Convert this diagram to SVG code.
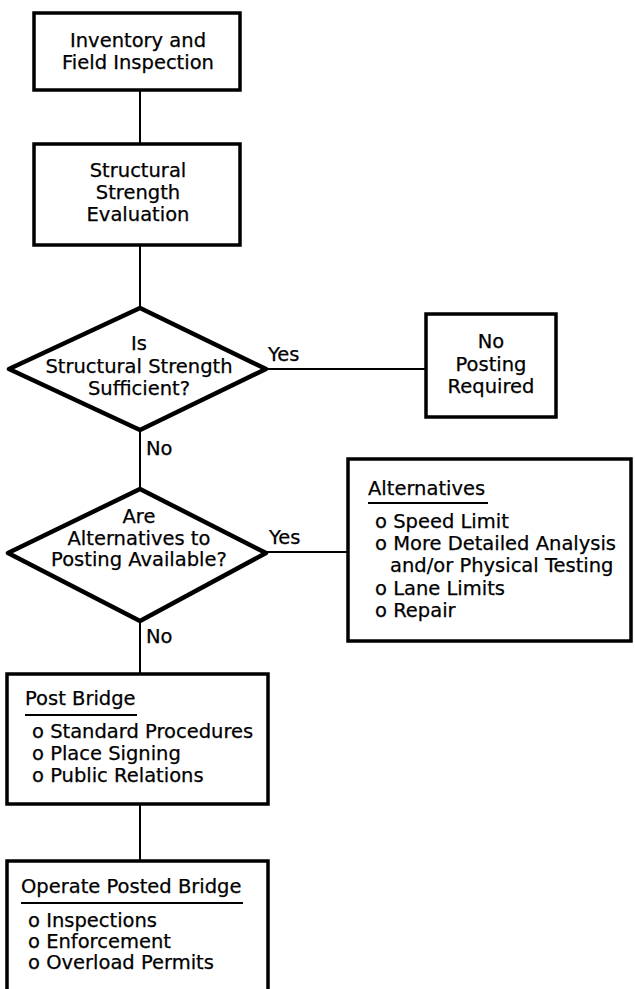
<svg xmlns="http://www.w3.org/2000/svg" width="635" height="989" viewBox="0 0 635 989">
<style>
.box{fill:#fff;stroke:#000;stroke-width:3.5}
.dia{fill:#fff;stroke:#000;stroke-width:4.5;stroke-linejoin:round}
.ln{stroke:#000;stroke-width:2;fill:none}
.ul{stroke:#000;stroke-width:1.8}
text{font-family:"DejaVu Sans","Liberation Sans",sans-serif;font-size:19.5px;fill:#000;stroke:#000;stroke-width:0.25}
.c{text-anchor:middle}
</style>
<rect width="635" height="989" fill="#fff"/>
<g id="connectors">
<line class="ln" x1="140" y1="91" x2="140" y2="144"/>
<line class="ln" x1="140" y1="246" x2="140" y2="308"/>
<line class="ln" x1="140" y1="430" x2="140" y2="489"/>
<line class="ln" x1="140" y1="621" x2="140" y2="674"/>
<line class="ln" x1="140" y1="805" x2="140" y2="861"/>
<line class="ln" x1="266" y1="369" x2="426" y2="369"/>
<line class="ln" x1="266" y1="552" x2="348" y2="552"/>
<text x="268" y="361">Yes</text>
<text x="146" y="455">No</text>
<text x="269" y="544">Yes</text>
<text x="146" y="643">No</text>
</g>
<g id="inventory">
<rect class="box" x="34" y="13" width="206" height="77"/>
<text class="c" x="138" y="47">Inventory and</text>
<text class="c" x="138" y="69">Field Inspection</text>
</g>
<g id="evaluation">
<rect class="box" x="34" y="144" width="206" height="101"/>
<text class="c" x="138" y="177">Structural</text>
<text class="c" x="138" y="199">Strength</text>
<text class="c" x="138" y="221">Evaluation</text>
</g>
<g id="decision1">
<polygon class="dia" points="140,308 266,369 140,430 9,369"/>
<text class="c" x="139" y="350">Is</text>
<text class="c" x="139" y="373">Structural Strength</text>
<text class="c" x="139" y="395">Sufficient?</text>
</g>
<g id="noposting">
<rect class="box" x="426" y="314" width="130" height="103"/>
<text class="c" x="491" y="348">No</text>
<text class="c" x="491" y="371">Posting</text>
<text class="c" x="491" y="393">Required</text>
</g>
<g id="decision2">
<polygon class="dia" points="140,489 266,553 140,621 8,553"/>
<text class="c" x="139" y="523">Are</text>
<text class="c" x="139" y="545">Alternatives to</text>
<text class="c" x="139" y="566">Posting Available?</text>
</g>
<g id="alternatives">
<rect class="box" x="348" y="459" width="283" height="182"/>
<text x="368" y="495">Alternatives</text>
<line class="ul" x1="368" y1="503" x2="488" y2="503"/>
<text x="375" y="528">o Speed Limit</text>
<text x="375" y="550">o More Detailed Analysis</text>
<text x="390" y="572">and/or Physical Testing</text>
<text x="375" y="595">o Lane Limits</text>
<text x="375" y="617">o Repair</text>
</g>
<g id="postbridge">
<rect class="box" x="7" y="674" width="261" height="130"/>
<text x="25" y="705">Post Bridge</text>
<line class="ul" x1="25" y1="715" x2="137" y2="715"/>
<text x="32" y="738">o Standard Procedures</text>
<text x="32" y="760">o Place Signing</text>
<text x="32" y="782">o Public Relations</text>
</g>
<g id="operate">
<rect class="box" x="7" y="861" width="261" height="140"/>
<text x="21" y="893">Operate Posted Bridge</text>
<line class="ul" x1="21" y1="903" x2="243" y2="903"/>
<text x="28" y="927">o Inspections</text>
<text x="28" y="948">o Enforcement</text>
<text x="28" y="969">o Overload Permits</text>
</g>
</svg>
